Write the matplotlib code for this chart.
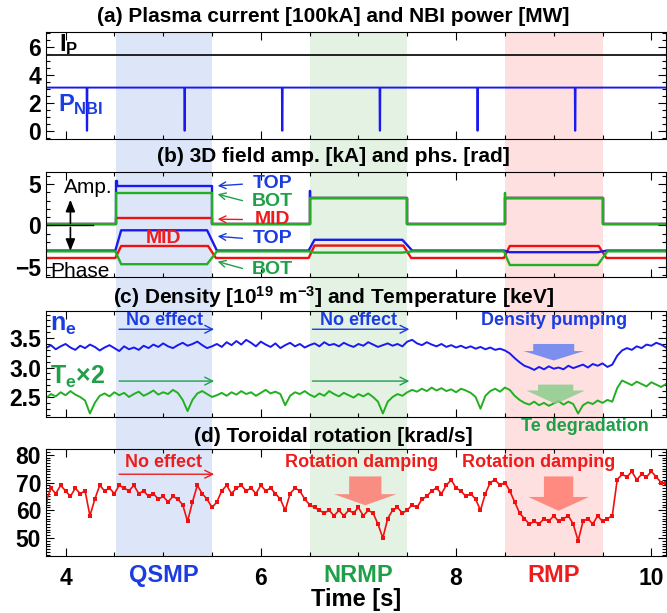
import numpy as np
import matplotlib
matplotlib.use('Agg')
import matplotlib.pyplot as plt
from matplotlib.patches import FancyArrow
from matplotlib.ticker import MultipleLocator, FormatStrFormatter

plt.rcParams['font.family'] = ['Liberation Sans', 'DejaVu Sans']
plt.rcParams['mathtext.fontset'] = 'custom'
plt.rcParams['mathtext.rm'] = 'Liberation Sans:bold'
plt.rcParams['mathtext.bf'] = 'Liberation Sans:bold'
plt.rcParams['mathtext.it'] = 'Liberation Sans:bold'

# ---------------- data ----------------
t_start, t_end = 3.80, 10.15
windows = [(4.52, 5.50), (6.50, 7.50), (8.50, 9.50)]
window_names = ['QSMP', 'NRMP', 'RMP']
window_colors = ['#dce6f8', '#e3f2e3', '#fde0df']
window_text_colors = ['#1a3ce0', '#1fa048', '#ee1c1c']

ip_level = 5.42
nbi_level = 3.1
nbi_dip_times = [4.22, 5.22, 6.22, 7.22, 8.22, 9.22]

amp_base = 0.1
amp_top = [4.8, 3.35, 3.35]
amp_top_spike = [5.4, 4.2, 3.35]
amp_bot = [3.9, 3.35, 3.35]
amp_bot_spike = [3.9, 3.35, 3.9]
amp_mid = [0.88, 3.35, 3.35]

phase_base_top = -3.05
phase_base_bot = -3.15
phase_base_mid = -3.95
phase_top = [-0.6, -1.75, -3.25]
phase_mid = [-2.5, -2.45, -2.5]
phase_bot = [-4.7, -3.3, -4.8]

t_prof = np.round(np.arange(3.80, 10.151, 0.05), 3)
ne = [3.33, 3.38, 3.31, 3.36, 3.40, 3.34, 3.30, 3.37, 3.33, 3.39,
      3.35, 3.29, 3.34, 3.38, 3.33, 3.28, 3.36, 3.31, 3.34, 3.30,
      3.37, 3.33, 3.39, 3.35, 3.41, 3.36, 3.33, 3.38, 3.42, 3.37,
      3.40, 3.44, 3.38, 3.33, 3.36, 3.40, 3.35, 3.43, 3.38, 3.45,
      3.39, 3.47, 3.42, 3.36, 3.44, 3.39, 3.35, 3.41, 3.33, 3.38,
      3.42, 3.36, 3.40, 3.34, 3.38, 3.41, 3.36, 3.43, 3.38, 3.40,
      3.36, 3.42, 3.38, 3.35, 3.40, 3.37, 3.43, 3.39, 3.35, 3.38,
      3.41, 3.37, 3.40, 3.36, 3.44, 3.47, 3.41, 3.38, 3.43, 3.39,
      3.36, 3.40, 3.35, 3.38, 3.34, 3.37, 3.33, 3.36, 3.32, 3.35,
      3.31, 3.34, 3.30, 3.32, 3.29, 3.24, 3.16, 3.09, 3.03, 3.00,
      2.96, 3.01, 2.97, 3.02, 2.98, 3.00, 2.97, 3.03, 2.99, 3.02,
      3.05, 3.00, 3.06, 3.03, 3.07, 3.01, 3.05, 3.20, 3.29, 3.33,
      3.30, 3.36, 3.33, 3.39, 3.37, 3.42, 3.39, 3.34]
te2 = [2.48, 2.55, 2.51, 2.58, 2.53, 2.60, 2.54, 2.50, 2.44, 2.22,
       2.40, 2.52, 2.56, 2.51, 2.58, 2.53, 2.57, 2.50, 2.55, 2.59,
       2.52, 2.56, 2.61, 2.54, 2.58, 2.55, 2.62, 2.57, 2.45, 2.26,
       2.45, 2.56, 2.60, 2.55, 2.50, 2.53, 2.57, 2.52, 2.58, 2.54,
       2.60, 2.55, 2.58, 2.52, 2.57, 2.62, 2.56, 2.59, 2.55, 2.36,
       2.52, 2.58, 2.55, 2.60, 2.54, 2.50, 2.56, 2.52, 2.60, 2.55,
       2.51, 2.57, 2.53, 2.49, 2.55, 2.51, 2.56, 2.50, 2.42, 2.22,
       2.42, 2.50, 2.55, 2.52, 2.58, 2.62, 2.59, 2.64, 2.60, 2.66,
       2.61, 2.65, 2.60, 2.63, 2.58, 2.64, 2.61, 2.57, 2.50, 2.30,
       2.52, 2.60, 2.64, 2.59, 2.66, 2.62, 2.52, 2.45, 2.40, 2.37,
       2.42, 2.36, 2.40, 2.35, 2.39, 2.43, 2.37, 2.42, 2.38, 2.22,
       2.36, 2.41, 2.38, 2.44, 2.40, 2.45, 2.42, 2.65, 2.78, 2.74,
       2.70, 2.76, 2.72, 2.68, 2.75, 2.71, 2.67, 2.72]
vrot = [63, 68, 66, 69, 67, 65, 68, 66, 67, 58,
        64, 69, 67, 68, 66, 69, 68, 67, 69, 66,
        67, 65, 66, 64, 65, 63, 65, 64, 62, 56,
        63, 69, 66, 64, 61, 63, 67, 69, 66, 68,
        69, 67, 68, 66, 69, 67, 68, 66, 64, 60,
        66, 68, 67, 64, 62, 61, 60, 59, 60, 58,
        60, 58, 60, 59, 61, 58, 60, 59, 55, 50,
        57, 60, 61, 59, 60, 62, 61, 64, 65, 67,
        68, 66, 69, 71, 68, 67, 65, 66, 64, 60,
        66, 70, 71, 69, 70, 67, 63, 59, 57, 55,
        56, 55, 57, 56, 58, 56, 57, 58, 55, 49,
        56, 57, 55, 58, 56, 57, 58, 71, 73, 72,
        74, 71, 73, 72, 74, 72, 70, 70]

BLUE = '#1a1af0'
GREEN = '#22b022'
RED = '#f01010'
TBLUE = '#1a3ce0'
TGREEN = '#1fa048'
TRED = '#ee1c1c'


def amp_series(levels, spikes):
    t, v = [t_start], [amp_base]
    for (w0, w1), lev, sp in zip(windows, levels, spikes):
        t += [w0, w0, w0 + 0.004, w0 + 0.004, w1, w1]
        v += [amp_base, sp, sp, lev, lev, amp_base]
    t.append(t_end)
    v.append(amp_base)
    return t, v


def phase_series(base, levels, rin, rout):
    t, v = [t_start], [base]
    for (w0, w1), lev in zip(windows, levels):
        t += [w0 - 0.01, w0 + rin, w1 - rout, w1 + rout]
        v += [base, lev, lev, base]
    t.append(t_end)
    v.append(base)
    return t, v


def nbi_series():
    t, v = [t_start], [nbi_level]
    for d in nbi_dip_times:
        t += [d - 0.004, d - 0.002, d + 0.002, d + 0.004]
        v += [nbi_level, 0.0, 0.0, nbi_level]
    t.append(t_end)
    v.append(nbi_level)
    return t, v


# ---------------- figure ----------------
fig = plt.figure(figsize=(6.67, 6.13), dpi=100)
L, W = 46 / 667, 620 / 667


def frac(top_px, bot_px):
    return [L, 1 - bot_px / 613, W, (bot_px - top_px) / 613]


bg = fig.add_axes(frac(32, 556), zorder=0)
bg.set_xlim(t_start, t_end)
bg.axis('off')
for (w0, w1), c in zip(windows, window_colors):
    bg.axvspan(w0, w1, color=c, lw=0)

axa = fig.add_axes(frac(32, 139), zorder=2)
axb = fig.add_axes(frac(172, 277), zorder=2)
axc = fig.add_axes(frac(311, 417), zorder=2)
axd = fig.add_axes(frac(449, 556), zorder=2)

for ax in (axa, axb, axc, axd):
    ax.patch.set_alpha(0)
    ax.set_xlim(t_start, t_end)
    ax.xaxis.set_major_locator(MultipleLocator(2))
    ax.xaxis.set_minor_locator(MultipleLocator(0.5))
    ax.tick_params(which='both', direction='in', top=True, right=True,
                   labelsize=16.5, width=0.8)
    ax.tick_params(which='major', length=6)
    ax.tick_params(which='minor', length=3)
    for s in ax.spines.values():
        s.set_linewidth(0.8)
    if ax is not axd:
        ax.tick_params(labelbottom=False)

title_kw = dict(ha='center', va='center', fontsize=15, fontweight='bold')
fig.text(0.5, 1 - 17 / 613, '(a) Plasma current [100kA] and NBI power [MW]', **title_kw)
fig.text(0.5, 1 - 157 / 613, '(b) 3D field amp. [kA] and phs. [rad]', **title_kw)
fig.text(0.5, 1 - 297 / 613, r'(c) Density [10$^{19}$ m$^{-3}$] and Temperature [keV]', **title_kw)
fig.text(0.5, 1 - 437 / 613, '(d) Toroidal rotation [krad/s]', **title_kw)

# ---- (a)
axa.set_ylim(-0.6, 7.1)
axa.yaxis.set_major_locator(MultipleLocator(2))
axa.yaxis.set_minor_locator(MultipleLocator(0.5))
axa.plot([t_start, t_end], [ip_level, ip_level], color='#222222', lw=1.4)
tn, vn = nbi_series()
axa.plot(tn, vn, color=BLUE, lw=1.4)
axa.text(3.93, 6.2, r'$\mathregular{I_P}$', color='black', fontsize=17, va='center', fontweight='bold')
axa.text(3.92, 1.9, r'$\mathregular{P_{NBI}}$', color=TBLUE, fontsize=17, va='center', fontweight='bold')

# ---- (b)
axb.set_ylim(-6.25, 6.45)
axb.yaxis.set_major_locator(MultipleLocator(5))
axb.yaxis.set_minor_locator(MultipleLocator(1))
for lev, sp, c in ((amp_mid, amp_mid, RED), (amp_top, amp_top_spike, BLUE), (amp_bot, amp_bot_spike, GREEN)):
    tt, vv = amp_series(lev, sp)
    axb.plot(tt, vv, color=c, lw=1.7)
tt, vv = phase_series(phase_base_mid, phase_mid, 0.05, 0.04)
axb.plot(tt, vv, color=RED, lw=1.7)
tt, vv = phase_series(phase_base_top, phase_top, 0.05, 0.05)
axb.plot(tt, vv, color=BLUE, lw=1.7)
tt, vv = phase_series(phase_base_bot, phase_bot, 0.05, 0.05)
axb.plot(tt, vv, color=GREEN, lw=1.7)
axb.plot([t_start, 4.28], [0, 0], color='black', lw=1.0)
arr_kw = dict(arrowstyle='-|>,head_length=0.5,head_width=0.2', color='black', lw=1.2,
              mutation_scale=14, shrinkA=0, shrinkB=0)
axb.annotate('', xy=(4.05, 3.1), xytext=(4.05, 0.25), arrowprops=arr_kw)
axb.annotate('', xy=(4.05, -3.1), xytext=(4.05, -0.25), arrowprops=arr_kw)
axb.text(3.98, 4.55, 'Amp.', fontsize=15, va='center', ha='left')
axb.text(3.84, -5.55, 'Phase', fontsize=15, va='center', ha='left')
axb.text(5.0, -1.55, 'MID', color=TRED, fontsize=14, fontweight='bold', ha='center', va='center')
labs = [('TOP', TBLUE, 5.0, 4.75), ('BOT', TGREEN, 2.9, 3.85), ('MID', TRED, 0.7, 0.75),
        ('TOP', TBLUE, -1.6, -1.3), ('BOT', TGREEN, -5.3, -4.3)]
for txt, c, ty, ay in labs:
    axb.text(6.12, ty, txt, color=c, fontsize=14, fontweight='bold', ha='center', va='center')
    axb.annotate('', xy=(5.53, ay), xytext=(5.84, ty),
                 arrowprops=dict(arrowstyle='->', color=c, lw=1.0, mutation_scale=12))

# ---- (c)
axc.set_ylim(2.16, 3.96)
axc.yaxis.set_major_locator(MultipleLocator(0.5))
axc.yaxis.set_minor_locator(MultipleLocator(0.1))
axc.yaxis.set_major_formatter(FormatStrFormatter('%.1f'))
axc.plot(t_prof, ne, color=BLUE, lw=1.4)
axc.plot(t_prof, te2, color=GREEN, lw=1.4)
axc.text(3.84, 3.73, r'$\mathregular{n_e}$', color=TBLUE, fontsize=18, va='center', fontweight='bold')
axc.text(3.84, 2.84, r'$\mathregular{T_e}$×2', color=TGREEN, fontsize=18, va='center', fontweight='bold')
for (w0, w1) in windows[:2]:
    axc.text((w0 + w1) / 2, 3.80, 'No effect', color=TBLUE, fontsize=13, fontweight='bold',
             ha='center', va='center')
    axc.annotate('', xy=(w1 + 0.05, 3.65), xytext=(w0, 3.65),
                 arrowprops=dict(arrowstyle='->', color=TBLUE, lw=1.0, mutation_scale=14))
    axc.annotate('', xy=(w1 + 0.05, 2.77), xytext=(w0, 2.77),
                 arrowprops=dict(arrowstyle='->', color=TGREEN, lw=1.0, mutation_scale=14))
axc.text(9.0, 3.80, 'Density pumping', color=TBLUE, fontsize=13, fontweight='bold',
         ha='center', va='center')
axc.add_patch(FancyArrow(9.0, 3.40, 0, -0.28, width=0.42, head_width=0.62, head_length=0.16,
                         length_includes_head=True, color='#6f86f0', alpha=0.9, lw=0, zorder=5))
axc.add_patch(FancyArrow(9.02, 2.71, 0, -0.33, width=0.36, head_width=0.60, head_length=0.23,
                         length_includes_head=True, color='#8ccc8c', alpha=0.85, lw=0, zorder=5))
axc.text(9.32, 2.0, 'Te degradation', color=TGREEN, fontsize=13, fontweight='bold',
         ha='center', va='center', clip_on=False, zorder=6)

# ---- (d)
axd.set_ylim(43.5, 82.1)
axd.yaxis.set_major_locator(MultipleLocator(10))
axd.yaxis.set_minor_locator(MultipleLocator(1))
axd.plot(t_prof, vrot, color=RED, lw=1.2, marker='s', ms=2.8, mew=0)
axd.text(5.0, 77.3, 'No effect', color=TRED, fontsize=13, fontweight='bold', ha='center', va='center')
axd.annotate('', xy=(5.55, 73.0), xytext=(4.52, 73.0),
             arrowprops=dict(arrowstyle='->', color=TRED, lw=1.0, mutation_scale=14))
axd.text(7.03, 77.3, 'Rotation damping', color=TRED, fontsize=13, fontweight='bold', ha='center', va='center')
axd.text(8.85, 77.3, 'Rotation damping', color=TRED, fontsize=13, fontweight='bold', ha='center', va='center')
axd.add_patch(FancyArrow(7.07, 72.2, 0, -10.4, width=0.33, head_width=0.64, head_length=4.0,
                         length_includes_head=True, color='#ff7b70', alpha=0.85, lw=0, zorder=5))
axd.add_patch(FancyArrow(9.05, 72.2, 0, -12.4, width=0.30, head_width=0.62, head_length=5.0,
                         length_includes_head=True, color='#ff7b70', alpha=0.85, lw=0, zorder=5))
axd.set_xticks([4, 6, 8, 10])
axd.set_xticklabels(['4', '6', '8', '10'])
axd.tick_params(axis='x', pad=8)
for (w0, w1), name, c in zip(windows, window_names, window_text_colors):
    axd.text((w0 + w1) / 2, -0.178, name, color=c, fontsize=17, fontweight='bold',
             ha='center', va='center', transform=axd.get_xaxis_transform())
axd.text(0.5, -0.41, 'Time [s]', fontsize=17, fontweight='bold', ha='center', va='center',
         transform=axd.transAxes)

for ax in (axa, axb, axc, axd):
    for lab in ax.get_yticklabels() + ax.get_xticklabels():
        lab.set_fontweight('bold')

fig.savefig('out.png', dpi=100)
